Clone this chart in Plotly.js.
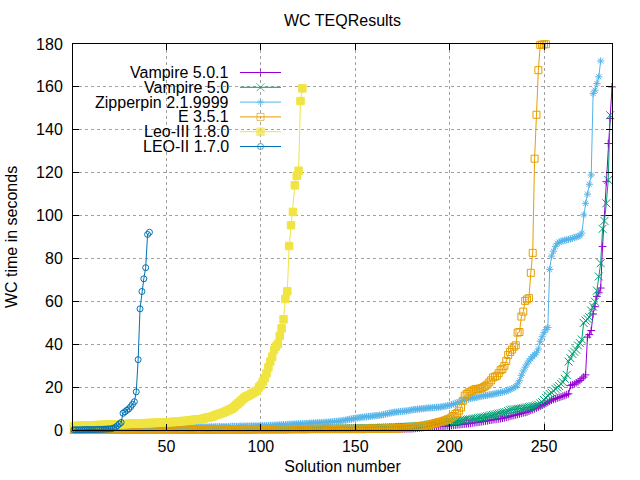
<!DOCTYPE html>
<html>
<head>
<meta charset="utf-8">
<script src="https://cdn.plot.ly/plotly-3.0.1.min.js"></script>
<style>
  html, body { margin: 0; padding: 0; background: #fff; }
  #plot { width: 640px; height: 480px; }
</style>
</head>
<body>
<div id="plot"></div>
<script>
// WC time (s) per solved problem, sorted ascending (cactus plot)
const vampire501 = [
  0.1,0.1,0.1,0.1,0.1,0.1,0.1,0.1,0.1,0.1, 0.1,0.1,0.1,0.1,0.1,0.1,0.1,0.1,0.1,0.1,
  0.1,0.1,0.1,0.1,0.1,0.1,0.1,0.1,0.1,0.1, 0.1,0.1,0.1,0.1,0.1,0.1,0.1,0.1,0.1,0.1,
  0.1,0.1,0.1,0.1,0.1,0.1,0.1,0.1,0.1,0.1, 0.1,0.1,0.1,0.1,0.1,0.1,0.1,0.1,0.1,0.1,
  0.1,0.1,0.1,0.1,0.1,0.2,0.2,0.2,0.2,0.2, 0.2,0.2,0.2,0.2,0.2,0.2,0.2,0.2,0.2,0.2,
  0.2,0.2,0.2,0.2,0.2,0.2,0.2,0.2,0.2,0.2, 0.2,0.2,0.2,0.2,0.2,0.2,0.2,0.2,0.2,0.2,
  0.2,0.2,0.2,0.2,0.2,0.2,0.2,0.2,0.2,0.2, 0.2,0.2,0.2,0.2,0.2,0.3,0.3,0.3,0.3,0.3,
  0.3,0.3,0.3,0.3,0.3,0.3,0.3,0.3,0.3,0.3, 0.3,0.3,0.3,0.3,0.3,0.3,0.3,0.3,0.3,0.3,
  0.3,0.3,0.3,0.3,0.3,0.3,0.3,0.3,0.3,0.3, 0.3,0.3,0.3,0.3,0.3,0.4,0.4,0.4,0.4,0.4,
  0.4,0.4,0.4,0.4,0.4,0.5,0.5,0.5,0.5,0.5, 0.5,0.5,0.5,0.6,0.6,0.6,0.6,0.6,0.6,0.6,
  0.7,0.8,0.9,1.0,1.1,1.2,1.3,1.4,1.5,1.55, 1.6,1.6,1.6,1.6,1.6,1.7,1.8,1.9,1.95,2.0,
  2.1,2.2,2.3,2.4,2.5,2.6,2.7,2.8,2.9,3.0, 3.1,3.3,3.4,3.5,3.6,3.7,3.9,4.0,4.2,4.3,
  4.5,4.6,4.8,4.9,5.1,5.2,5.3,5.5,5.7,5.9, 6.1,6.4,6.6,6.8,7.0,7.3,7.5,7.8,8.0,8.2,
  8.4,8.8,9.2,9.5,9.9,10.3,10.7,11.1,11.5,11.9, 12.4,12.9,13.4,13.9,14.3,14.6,14.9,15.2,15.5,15.8,
  16.1,16.5,16.9,20.8,21.1,21.4,22.0,22.5,23.1,23.9, 24.7,25.7,43.3,44.5,46.4,54.1,57.5,62.3,64.0,66.2,
  85.6,100.0,115.8,133.6,145.3,160.0
];

const vampire50 = [
  0.1,0.1,0.1,0.1,0.1,0.1,0.1,0.1,0.1,0.1, 0.1,0.1,0.1,0.1,0.1,0.1,0.1,0.1,0.1,0.1,
  0.1,0.1,0.1,0.1,0.1,0.1,0.1,0.1,0.1,0.1, 0.1,0.1,0.1,0.1,0.1,0.1,0.1,0.1,0.1,0.1,
  0.1,0.1,0.1,0.1,0.1,0.1,0.1,0.2,0.2,0.2, 0.2,0.2,0.2,0.2,0.2,0.2,0.2,0.2,0.2,0.2,
  0.2,0.2,0.2,0.2,0.2,0.2,0.2,0.2,0.2,0.2, 0.2,0.2,0.2,0.2,0.2,0.3,0.3,0.3,0.3,0.3,
  0.3,0.3,0.3,0.3,0.3,0.3,0.3,0.3,0.3,0.3, 0.3,0.3,0.3,0.3,0.3,0.3,0.3,0.4,0.4,0.4,
  0.4,0.4,0.4,0.4,0.4,0.4,0.4,0.4,0.4,0.4, 0.4,0.4,0.4,0.4,0.4,0.5,0.5,0.5,0.5,0.5,
  0.5,0.5,0.5,0.5,0.5,0.5,0.6,0.6,0.6,0.6, 0.6,0.6,0.6,0.6,0.6,0.7,0.7,0.7,0.7,0.7,
  0.7,0.7,0.7,0.7,0.7,0.7,0.8,0.8,0.8,0.8, 0.8,0.8,0.8,0.8,0.9,0.9,0.9,0.9,0.9,1.0,
  1.0,1.0,1.0,1.1,1.1,1.1,1.2,1.2,1.2,1.3, 1.3,1.3,1.4,1.4,1.5,1.5,1.5,1.6,1.6,1.7,
  1.7,1.8,1.8,1.9,1.9,2.0,2.1,2.3,2.5,2.6, 2.8,2.9,3.1,3.2,3.4,3.5,3.6,3.7,3.8,3.9,
  3.95,4.0,4.1,4.2,4.3,4.4,4.5,4.6,4.8,4.9, 5.0,5.2,5.3,5.4,5.6,5.7,5.9,6.0,6.2,6.4,
  6.6,6.8,7.0,7.2,7.4,7.6,7.8,8.0,8.2,8.4, 8.8,9.2,9.5,9.6,9.7,9.8,9.9,10.0,10.2,10.4,
  10.5,10.7,10.9,11.1,11.2,11.5,11.8,12.4,13.0,14.0, 15.0,16.1,16.8,17.4,18.3,19.2,19.8,20.5,21.5,22.3,
  23.9,25.7,31.9,33.5,35.5,36.5,37.5,39.4,40.5,42.2, 49.9,51.0,51.8,52.6,55.7,57.5,59.8,65.0,71.6,77.8,
  93.8,97.5,105.7,116.6,146.8
];

const zipperpin = [
  0.1,0.1,0.1,0.1,0.1,0.1,0.1,0.1,0.1,0.1, 0.1,0.1,0.1,0.1,0.1,0.2,0.2,0.2,0.2,0.2,
  0.2,0.2,0.2,0.2,0.2,0.2,0.2,0.2,0.2,0.2, 0.2,0.2,0.2,0.2,0.2,0.3,0.3,0.3,0.3,0.3,
  0.3,0.3,0.3,0.3,0.3,0.3,0.3,0.4,0.4,0.4, 0.5,0.7,0.8,0.9,1.0,1.0,1.1,1.1,1.1,1.2,
  1.2,1.2,1.2,1.3,1.3,1.3,1.3,1.4,1.4,1.4, 1.4,1.4,1.5,1.5,1.5,1.5,1.5,1.6,1.6,1.6,
  1.6,1.6,1.6,1.7,1.7,1.7,1.7,1.7,1.8,1.8, 1.8,1.8,1.8,1.8,1.9,1.9,1.9,1.9,1.9,2.0,
  2.0,2.0,2.1,2.1,2.1,2.2,2.2,2.3,2.3,2.4, 2.4,2.5,2.5,2.6,2.6,2.7,2.7,2.8,2.8,2.9,
  2.9,3.0,3.0,3.1,3.1,3.2,3.2,3.3,3.3,3.4, 3.4,3.5,3.5,3.6,3.6,3.7,3.8,3.8,3.9,4.0,
  4.1,4.2,4.3,4.5,4.6,4.8,5.0,5.1,5.3,5.5, 5.6,5.8,5.9,6.0,6.1,6.2,6.3,6.4,6.5,6.6,
  6.7,6.8,6.9,7.0,7.2,7.4,7.6,7.8,8.0,8.2, 8.3,8.4,8.5,8.6,8.7,8.8,8.9,9.0,9.2,9.4,
  9.5,9.6,9.7,9.8,9.9,10.0,10.1,10.2,10.3,10.3, 10.4,10.5,10.6,10.6,10.7,10.9,11.0,11.2,11.4,11.5,
  11.8,12.1,12.4,12.7,13.0,13.3,13.6,13.9,14.2,14.5, 14.8,14.9,15.0,15.2,15.4,15.6,15.8,15.9,16.1,16.2,
  16.4,16.5,16.7,16.9,17.1,17.3,17.5,17.7,17.9,18.1, 18.5,18.9,19.3,19.7,20.2,21.5,23.0,25.5,27.5,29.3,
  30.8,32.2,33.2,34.2,35.1,36.0,37.8,41.4,43.5,45.4, 46.8,47.8,74.9,81.1,83.4,85.5,87.0,87.6,88.0,88.2,
  88.5,88.7,88.9,89.1,89.4,89.7,90.0,90.3,90.6,91.8, 100.3,105.7,110.0,114.6,118.9,156.9,158.5,161.6,164.7,172.1
];

const eprover = [
  0.1,0.1,0.1,0.1,0.1,0.1,0.1,0.1,0.1,0.1, 0.1,0.1,0.1,0.1,0.1,0.1,0.1,0.1,0.1,0.1,
  0.1,0.1,0.1,0.1,0.1,0.2,0.2,0.2,0.2,0.2, 0.2,0.2,0.2,0.2,0.2,0.2,0.2,0.2,0.2,0.2,
  0.2,0.2,0.2,0.2,0.2,0.2,0.2,0.2,0.2,0.2, 0.2,0.2,0.2,0.2,0.2,0.3,0.3,0.3,0.3,0.3,
  0.3,0.3,0.3,0.3,0.3,0.3,0.3,0.3,0.3,0.3, 0.3,0.3,0.3,0.3,0.3,0.3,0.3,0.3,0.3,0.3,
  0.3,0.3,0.3,0.3,0.3,0.3,0.3,0.3,0.3,0.3, 0.3,0.3,0.3,0.3,0.3,0.3,0.4,0.4,0.4,0.4,
  0.4,0.4,0.4,0.4,0.4,0.4,0.4,0.4,0.4,0.4, 0.4,0.4,0.4,0.4,0.4,0.4,0.4,0.4,0.4,0.4,
  0.4,0.4,0.4,0.4,0.4,0.5,0.5,0.5,0.5,0.5, 0.5,0.5,0.5,0.5,0.5,0.5,0.5,0.5,0.5,0.5,
  0.5,0.5,0.5,0.5,0.5,0.5,0.5,0.5,0.5,0.5, 0.5,0.5,0.5,0.5,0.5,0.6,0.6,0.6,0.6,0.6,
  0.6,0.6,0.6,0.6,0.6,0.6,0.7,0.7,0.7,0.7, 0.7,0.7,0.8,0.8,0.8,0.9,1.0,1.1,1.2,1.3,
  1.4,1.5,1.6,1.7,1.9,2.0,2.1,2.3,2.4,2.6, 2.8,3.1,3.3,3.6,3.8,4.0,4.3,4.6,5.0,5.3,
  5.9,6.5,7.4,8.0,9.0,10.5,13.6,16.0,16.8,17.5, 17.9,18.3,18.8,19.1,19.2,19.3,19.5,20.0,20.6,21.2,
  22.2,23.2,24.5,24.9,25.3,26.5,27.9,28.5,29.9,32.2, 35.0,36.4,37.5,38.8,39.5,45.4,45.7,52.9,55.2,60.2,
  60.9,61.5,73.3,82.6,126.5,147.0,167.8,179.6,179.7,179.8,179.9
];

const leo3 = [
  1.8,1.9,1.9,2.0,2.0,2.0,2.1,2.1,2.1,2.2, 2.2,2.2,2.3,2.3,2.3,2.4,2.4,2.4,2.5,2.5,
  2.5,2.6,2.6,2.6,2.7,2.7,2.7,2.8,2.8,2.9, 2.9,2.9,3.0,3.0,3.0,3.1,3.1,3.1,3.2,3.2,
  3.2,3.3,3.3,3.3,3.4,3.4,3.4,3.5,3.5,3.6, 3.6,3.7,3.7,3.8,3.9,3.9,4.0,4.1,4.2,4.2,
  4.3,4.4,4.5,4.7,4.8,4.9,5.0,5.0,5.2,5.4, 5.7,5.8,6.0,6.2,6.5,7.0,7.2,7.5,7.8,8.1,
  8.5,8.9,9.3,9.7,10.1,10.9,11.7,12.4,13.2,14.0, 14.8,15.5,15.9,16.3,16.9,17.4,17.9,18.3,19.9,20.9,
  22.5,24.1,26.4,29.2,31.9,34.2,37.3,38.9,40.1,43.8, 47.4,51.6,61.1,64.7,85.8,95.5,101.7,114.1,118.5,120.9,
  153.4,159.3
];

const leo2 = [
  0.1,0.1,0.1,0.1,0.1,0.2,0.2,0.2,0.2,0.2, 0.2,0.2,0.3,0.3,0.3,0.3,0.4,0.4,0.5,0.5,
  0.6,0.9,1.3,2.0,2.8,3.5,7.8,8.5,9.2,9.8, 10.8,12.0,13.2,17.8,32.8,56.5,64.6,70.5,75.7,91.2,
  92.2
];

const seriesNames = ['Vampire 5.0.1', 'Vampire 5.0', 'Zipperpin 2.1.9999', 'E 3.5.1', 'Leo-III 1.8.0', 'LEO-II 1.7.0'];
const seriesValues = [vampire501, vampire50, zipperpin, eprover, leo3, leo2];
const xTicks = [50, 100, 150, 200, 250];

// gnuplot default line colours / point types
const styles = [
  { color: '#9400d3', symbol: 'cross-thin-open', size: 5.5 },
  { color: '#009e73', symbol: 'x-thin-open', size: 8 },
  { color: '#56b4e9', symbol: 'asterisk-open', size: 6 },
  { color: '#e69f00', symbol: 'square-open', size: 7 },
  { color: '#f0e442', symbol: 'square', size: 7.5 },
  { color: '#0072b2', symbol: 'circle-open', size: 6 }
];

// plot box in pixels, used to place the hand-made key
const box = { l: 73, r: 612, t: 44, b: 430 };
const px = p => (p - box.l) / (box.r - box.l);
const py = p => (box.b - p) / (box.b - box.t);
const keyRows = [72.5, 87.3, 102.1, 116.9, 131.7, 146.5];

const font = { family: 'Liberation Sans, Arial, sans-serif', size: 16, color: '#000' };

const traces = seriesValues.map((vals, k) => ({
  x: vals.map((_, i) => i + 1),
  y: vals,
  type: 'scatter',
  mode: 'lines+markers',
  name: seriesNames[k],
  cliponaxis: false,
  line: { color: styles[k].color, width: 1 },
  marker: {
    color: styles[k].color,
    symbol: styles[k].symbol,
    size: styles[k].size,
    line: { color: styles[k].color, width: 1 }
  },
  hoverinfo: 'x+y+name'
}));

// key samples: line with one point in the middle, on a 0..1 overlay axis pair
const keyTraces = seriesNames.map((name, k) => ({
  x: [px(240), px(260.5), px(281)],
  y: [py(keyRows[k]), py(keyRows[k]), py(keyRows[k])],
  xaxis: 'x2', yaxis: 'y2',
  type: 'scatter',
  mode: 'lines+markers',
  cliponaxis: false,
  hoverinfo: 'skip',
  line: { color: styles[k].color, width: 1 },
  marker: {
    color: styles[k].color,
    symbol: styles[k].symbol,
    size: [0, styles[k].size, 0],
    line: { color: styles[k].color, width: 1 }
  }
}));

const keyLabels = seriesNames.map((name, k) => ({
  text: name,
  xref: 'paper', yref: 'paper',
  x: px(231), y: py(keyRows[k]),
  xanchor: 'right', yanchor: 'middle',
  showarrow: false,
  font: font
}));

const axisCommon = {
  showline: true, linecolor: '#000', linewidth: 1, mirror: 'ticks',
  ticks: 'inside', ticklen: 6, tickcolor: '#000', tickwidth: 1,
  showgrid: true, gridcolor: '#a0a0a0', gridwidth: 1, griddash: '3px,3px',
  zeroline: false, tickfont: font, automargin: false
};

const layout = {
  width: 640, height: 480,
  paper_bgcolor: '#fff', plot_bgcolor: '#fff',
  font: font,
  margin: { l: box.l, r: 640 - box.r, t: box.t, b: 480 - box.b },
  showlegend: false,
  title: {
    text: 'WC TEQResults', font: font,
    x: 0.5, xref: 'paper', xanchor: 'center',
    y: 1 - 20 / 480, yref: 'container', yanchor: 'middle'
  },
  xaxis: {
    ...axisCommon,
    range: [0.5, 286],
    tickvals: xTicks,
    ticklabelstandoff: 2,
    title: { text: 'Solution number', font: font, standoff: 6 }
  },
  yaxis: {
    ...axisCommon,
    range: [0, 180],
    dtick: 20,
    ticklabelstandoff: 6,
    title: { text: 'WC time in seconds', font: font, standoff: 14 }
  },
  xaxis2: { overlaying: 'x', range: [0, 1], visible: false, anchor: 'y2' },
  yaxis2: { overlaying: 'y', range: [0, 1], visible: false, anchor: 'x2' },
  annotations: keyLabels
};

Plotly.newPlot('plot', [...traces, ...keyTraces], layout, { displayModeBar: false, staticPlot: true });
</script>
</body>
</html>
